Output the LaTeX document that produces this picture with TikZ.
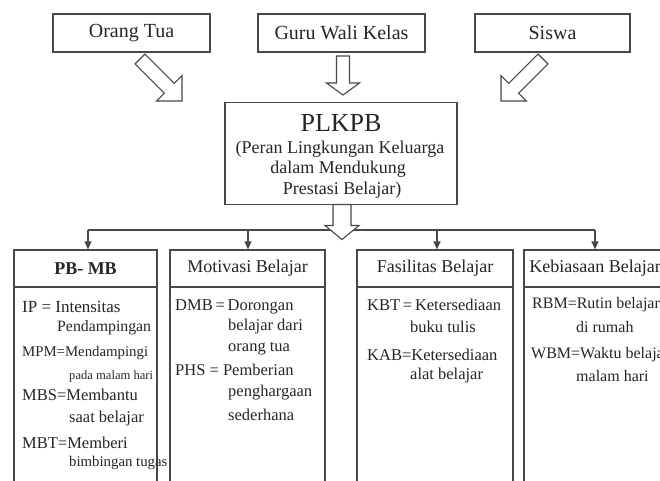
\documentclass[tikz,border=0pt]{standalone}
\usepackage{fontspec}
\setmainfont{Liberation Serif}
\usetikzlibrary{arrows.meta,calc}
\definecolor{ink}{HTML}{262626}
\definecolor{edge}{HTML}{484848}
\begin{document}
\begin{tikzpicture}[x=1pt,y=-1pt,
  every node/.style={text=ink, inner sep=0pt},
  edgeline/.style={draw=edge, line width=1.2pt},
  hollow/.style={draw=edge, line width=1.1pt, fill=white, line join=miter},
  topbox/.style={edgeline, minimum width=157pt, minimum height=38pt, font=\fontsize{20}{24}\selectfont},
  catbox/.style={edgeline, minimum height=240pt},
  hdr/.style={font=\fontsize{18}{22}\selectfont},
  txt/.style={anchor=west, font=\fontsize{16.5}{20}\selectfont},
  sub/.style={font=\fontsize{18}{22}\selectfont},
  tip/.style={-{Triangle[width=7pt,length=8pt]}}
]
\useasboundingbox (0,0) rectangle (660,480);
\clip (0,0) rectangle (660,480);
\fill[white] (0,0) rectangle (660,480);

% top boxes
\node[topbox] (ot) at (131.5,33) {Orang Tua};
\node[topbox, minimum width=167pt] (gw) at (341.5,33) {Guru Wali Kelas};
\node[topbox, minimum width=155pt] (sw) at (552.5,33) {Siswa};

% central box
\node[edgeline, minimum width=232pt, minimum height=102pt] (pl) at (341,153.5) {};
\node[font=\fontsize{26}{30}\selectfont] (plt) at (341,123) {PLKPB};
\node[sub] (pl1) at (340,149) {(Peran Lingkungan Keluarga};
\node[sub] (pl2) at (338,169) {dalam Mendukung};
\node[sub] (pl3) at (342,190) {Prestasi Belajar)};

% hollow arrows from top boxes
\begin{scope}[shift={(140,59)}, rotate=-45]
  \draw[hollow] (0,7) -- (41.4,7) -- (41.4,18) -- (59.4,0) -- (41.4,-18) -- (41.4,-7) -- (0,-7) -- cycle;
\end{scope}
\begin{scope}[shift={(343,56)}, rotate=-90]
  \draw[hollow] (0,6.5) -- (27,6.5) -- (27,16.5) -- (39,0) -- (27,-16.5) -- (27,-6.5) -- (0,-6.5) -- cycle;
\end{scope}
\begin{scope}[shift={(543,59)}, rotate=-135]
  \draw[hollow] (0,7) -- (41.4,7) -- (41.4,18) -- (59.4,0) -- (41.4,-18) -- (41.4,-7) -- (0,-7) -- cycle;
\end{scope}

% category boxes
\node[catbox, minimum width=143pt] (pb) at (85.5,370) {};
\node[catbox, minimum width=155pt] (mb) at (247.5,370) {};
\node[catbox, minimum width=156pt] (fb) at (435,370) {};
\node[catbox, minimum width=142pt] (kb) at (595,370) {};
\foreach \b in {pb,mb,fb,kb}{
  \draw[edgeline] (\b.north west |- 0,287) -- (\b.north east |- 0,287);
}
\node[hdr] (pbh) at (85.5,268.5) {\textbf{PB- MB}};
\node[hdr] (mbh) at (247.5,268.5) {Motivasi Belajar};
\node[hdr] (fbh) at (435,268.5) {Fasilitas Belajar};
\node[hdr] (kbh) at (595,268.5) {Kebiasaan Belajar};

% bus and small arrows
\coordinate (t1) at (88,230);
\coordinate (t2) at (248,230);
\coordinate (t3) at (437,230);
\coordinate (t4) at (595,230);
\draw[edgeline] (t1) -- (t4);
\draw[edgeline, tip] (t1) -- (t1 |- pb.north);
\draw[edgeline, tip] (t2) -- (t2 |- mb.north);
\draw[edgeline, tip] (t3) -- (t3 |- fb.north);
\draw[edgeline, tip] (t4) -- (t4 |- kb.north);

% hollow arrow from PLKPB
\begin{scope}[shift={(342,204.5)}, rotate=-90]
  \draw[hollow] (0,9) -- (21,9) -- (21,17) -- (35,0) -- (21,-17) -- (21,-9) -- (0,-9) -- cycle;
\end{scope}

% PB-MB contents
\node[txt, font=\fontsize{17}{20}\selectfont] (ip) at (22,307) {IP = Intensitas};
\node[txt, font=\fontsize{15.8}{20}\selectfont] (ip2) at (57,328) {Pendampingan};
\node[txt, font=\fontsize{14.8}{18}\selectfont] (mpm) at (22,353) {MPM=Mendampingi};
\node[txt, font=\fontsize{12.6}{15}\selectfont] (mpm2) at (69,376) {pada malam hari};
\node[txt] (mbs) at (22,395) {MBS=Membantu};
\node[txt] (mbs2) at (69,419) {saat belajar};
\node[txt] (mbt) at (22,443) {MBT=Memberi};
\node[txt, font=\fontsize{14.8}{18}\selectfont] (mbt2) at (69,463) {bimbingan tugas};

% Motivasi contents
\node[txt] (dmb) at (175,307) {DMB\,=\,Dorongan};
\node[txt] (dmb2) at (228,327) {belajar dari};
\node[txt] (dmb3) at (228,349) {orang tua};
\node[txt] (phs) at (175,370) {PHS = Pemberian};
\node[txt] (phs2) at (228,393) {penghargaan};
\node[txt] (phs3) at (228,415) {sederhana};

% Fasilitas contents
\node[txt] (kbt) at (367,305) {KBT\,=\,Ketersediaan};
\node[txt] (kbt2) at (410,327) {buku tulis};
\node[txt] (kab) at (367,355) {KAB=Ketersediaan};
\node[txt] (kab2) at (410,376) {alat belajar};

% Kebiasaan contents
\node[txt, font=\fontsize{16}{20}\selectfont] (rbm) at (532,305) {RBM=Rutin belajar};
\node[txt, font=\fontsize{16}{20}\selectfont] (rbm2) at (576,327) {di rumah};
\node[txt, font=\fontsize{16}{20}\selectfont] (wbm) at (531,355) {WBM=Waktu belajar};
\node[txt, font=\fontsize{16}{20}\selectfont] (wbm2) at (576,376) {malam hari};
\end{tikzpicture}
\end{document}
